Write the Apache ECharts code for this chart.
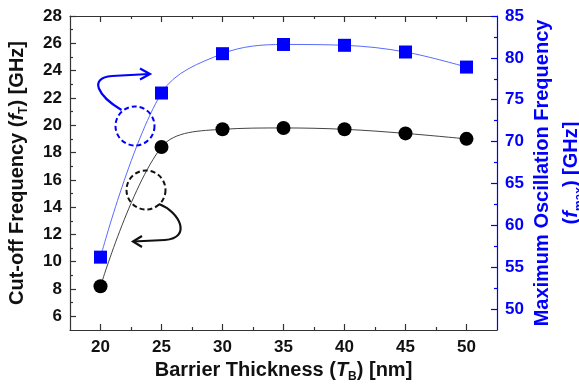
<!DOCTYPE html>
<html>
<head>
<meta charset="utf-8">
<script src="https://cdn.jsdelivr.net/npm/echarts@6/dist/echarts.min.js"></script>
<style>html,body{margin:0;padding:0;background:#fff;}#c{width:579px;height:391px;}</style>
</head>
<body>
<div id="c"></div>
<script>
// ---- data ----
const thickness = [20, 25, 30, 35, 40, 45, 50];
const fT = [8.2, 18.4, 19.7, 19.8, 19.7, 19.4, 19.0];
const fmax = [56.2, 75.8, 80.5, 81.6, 81.5, 80.7, 78.9];
const xMajorTicks = [20, 25, 30, 35, 40, 45, 50];
const xMinorTicks = [22.5, 27.5, 32.5, 37.5, 42.5, 47.5];
const leftMajorTicks = [6, 8, 10, 12, 14, 16, 18, 20, 22, 24, 26, 28];
const leftMinorTicks = [7, 9, 11, 13, 15, 17, 19, 21, 23, 25, 27];
const rightMajorTicks = [50, 55, 60, 65, 70, 75, 80, 85];
const rightMinorTicks = [52.5, 57.5, 62.5, 67.5, 72.5, 77.5, 82.5];

const BLUE = '#0000ff';
const DARK = '#333';
const FONT = '"Liberation Sans", Arial, sans-serif';

const chart = echarts.init(document.getElementById('c'), null, {renderer: 'canvas'});

function axisBase(extra) {
  return Object.assign({
    type: 'value',
    splitLine: {show: false},
    axisLine: {show: false},
    axisLabel: {show: false},
    axisTick: {show: false}
  }, extra);
}

const labelStyle = {fontFamily: FONT, fontWeight: 'bold', fontSize: 17, color: '#111'};
function richFor(color, size) {
  return {
    i: {fontFamily: FONT, fontWeight: 'bold', fontStyle: 'italic', fontSize: size, color: color, lineHeight: 26},
    sub: {fontFamily: FONT, fontWeight: 'bold', fontSize: 12, color: color, lineHeight: 12, verticalAlign: 'bottom'}
  };
}

const xRange = {min: 17.5, max: 52.5};
const lRange = {min: 5, max: 28};
const rRange = {min: 47.5, max: 85};
const tickStyle = {color: DARK, width: 1.2};

const option = {
  backgroundColor: '#fff',
  animation: false,
  grid: {left: 70, right: 82, top: 16, bottom: 61, containLabel: false, outerBoundsMode: 'none'},
  xAxis: [
    axisBase(Object.assign({}, xRange, {
      position: 'bottom',
      interval: 2.5,
      axisLine: {show: true, lineStyle: tickStyle},
      axisTick: {show: true, inside: true, length: 6, customValues: xMajorTicks, lineStyle: tickStyle},
      axisLabel: Object.assign({show: true, margin: 9, customValues: xMajorTicks}, labelStyle),
      name: 'Barrier Thickness ({i|T}{sub|B}) [nm]',
      nameLocation: 'middle',
      nameMoveOverlap: false,
      nameGap: 27,
      nameTextStyle: {fontFamily: FONT, fontWeight: 'bold', fontSize: 20, color: '#111', lineHeight: 26, rich: richFor('#111', 20)}
    })),
    axisBase(Object.assign({}, xRange, {
      position: 'bottom', interval: 2.5,
      axisTick: {show: true, inside: true, length: 3, customValues: xMinorTicks, lineStyle: tickStyle}
    })),
    axisBase(Object.assign({}, xRange, {
      position: 'top', interval: 2.5,
      axisLine: {show: true, lineStyle: tickStyle},
      axisTick: {show: true, inside: true, length: 6, customValues: xMajorTicks, lineStyle: tickStyle}
    })),
    axisBase(Object.assign({}, xRange, {
      position: 'top', interval: 2.5,
      axisTick: {show: true, inside: true, length: 3, customValues: xMinorTicks, lineStyle: tickStyle}
    }))
  ],
  yAxis: [
    axisBase(Object.assign({}, lRange, {
      position: 'left', interval: 1,
      axisLine: {show: true, lineStyle: tickStyle},
      axisTick: {show: true, inside: true, length: 6, customValues: leftMajorTicks, lineStyle: tickStyle},
      axisLabel: Object.assign({show: true, margin: 8, customValues: leftMajorTicks}, labelStyle),
      name: 'Cut-off Frequency ({i|f}{sub|T}) [GHz]',
      nameLocation: 'middle',
      nameRotate: 90,
      nameMoveOverlap: false,
      nameGap: 40,
      nameTextStyle: {fontFamily: FONT, fontWeight: 'bold', fontSize: 20, color: '#111', lineHeight: 26, rich: richFor('#111', 20)}
    })),
    axisBase(Object.assign({}, lRange, {
      position: 'left', interval: 1,
      axisTick: {show: true, inside: true, length: 3, customValues: leftMinorTicks, lineStyle: tickStyle}
    })),
    axisBase(Object.assign({}, rRange, {
      position: 'right', interval: 2.5,
      axisLine: {show: true, lineStyle: {color: BLUE, width: 1.2}},
      axisTick: {show: true, inside: true, length: 6, customValues: rightMajorTicks, lineStyle: {color: BLUE, width: 1.2}},
      axisLabel: Object.assign({show: true, margin: 8, customValues: rightMajorTicks}, labelStyle, {color: BLUE}),
      name: 'Maximum Oscillation Frequency\n({i|f}{sub|max}) [GHz]',
      nameLocation: 'middle',
      nameRotate: 90,
      nameMoveOverlap: false,
      nameGap: 31,
      nameTextStyle: {fontFamily: FONT, fontWeight: 'bold', fontSize: 20, color: BLUE, lineHeight: 29, rich: richFor(BLUE, 20)}
    })),
    axisBase(Object.assign({}, rRange, {
      position: 'right', interval: 2.5,
      axisTick: {show: true, inside: true, length: 3, customValues: rightMinorTicks, lineStyle: {color: BLUE, width: 1.2}}
    }))
  ],
  series: [
    {
      type: 'line', name: 'fT', xAxisIndex: 0, yAxisIndex: 0,
      data: thickness.map((x, i) => [x, fT[i]]),
      smooth: 0.35,
      symbol: 'circle', symbolSize: 14,
      itemStyle: {color: '#000'},
      lineStyle: {color: '#444', width: 1}
    },
    {
      type: 'line', name: 'fmax', xAxisIndex: 0, yAxisIndex: 2,
      data: thickness.map((x, i) => [x, fmax[i]]),
      smooth: 0.35,
      symbol: 'rect', symbolSize: 13,
      itemStyle: {color: BLUE},
      lineStyle: {color: '#5a6bff', width: 1}
    }
  ],
  graphic: [
    // blue dashed circle + arrow
    {type: 'circle', shape: {cx: 135, cy: 126, r: 19.5}, style: {fill: null, stroke: BLUE, lineWidth: 2, lineDash: [5, 3]}, z: 10},
    {type: 'bezierCurve', shape: {x1: 121.5, y1: 110, cpx1: 98, cpy1: 96, cpx2: 88, cpy2: 78, x2: 112, y2: 76}, style: {fill: null, stroke: BLUE, lineWidth: 2.2}, z: 10},
    {type: 'line', shape: {x1: 112, y1: 76, x2: 149, y2: 74}, style: {stroke: BLUE, lineWidth: 2.2}, z: 10},
    {type: 'polyline', shape: {points: [[140, 68.5], [150, 74], [140, 79.5]]}, style: {fill: null, stroke: BLUE, lineWidth: 2.2}, z: 10},
    // black dashed circle + arrow
    {type: 'circle', shape: {cx: 146, cy: 190, r: 19.5}, style: {fill: null, stroke: '#111', lineWidth: 2, lineDash: [5, 3]}, z: 10},
    {type: 'bezierCurve', shape: {x1: 159, y1: 204, cpx1: 180, cpy1: 212, cpx2: 192, cpy2: 238, x2: 165, y2: 240}, style: {fill: null, stroke: '#111', lineWidth: 2.2}, z: 10},
    {type: 'line', shape: {x1: 165, y1: 240, x2: 133, y2: 241.5}, style: {stroke: '#111', lineWidth: 2.2}, z: 10},
    {type: 'polyline', shape: {points: [[142, 236], [133, 241.5], [142, 247]]}, style: {fill: null, stroke: '#111', lineWidth: 2.2}, z: 10}
  ]
};
chart.setOption(option);
</script>
</body>
</html>
